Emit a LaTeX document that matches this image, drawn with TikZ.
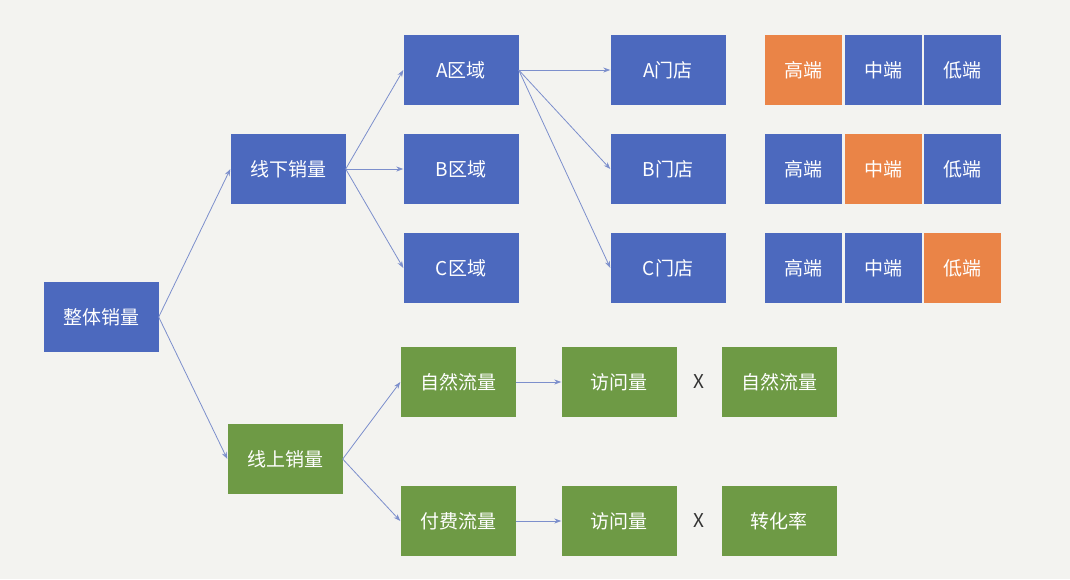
\documentclass[tikz,border=0pt]{standalone}
\usepackage{fontspec}
\setmainfont{Noto Sans CJK SC}
\usetikzlibrary{arrows.meta}
\definecolor{bg}{HTML}{F3F3F0}
\definecolor{bl}{HTML}{4C69BE}
\definecolor{og}{HTML}{EA8447}
\definecolor{gr}{HTML}{6E9A45}
\definecolor{ln}{HTML}{7C8FCC}
\tikzset{
 bx/.style={fill=#1,text=white,minimum width=115pt,minimum height=70pt,inner sep=0pt,font=\fontsize{19}{19}\selectfont},
 tb/.style={fill=#1,text=white,minimum width=77pt,minimum height=70pt,inner sep=0pt,font=\fontsize{19}{19}\selectfont},
 ar/.style={draw=ln,line width=0.8pt,-{Stealth[length=7pt,width=5pt]}}
}
\begin{document}
\begin{tikzpicture}[x=1pt,y=-1pt]
\fill[bg] (0,0) rectangle (1070,579);
\useasboundingbox (0,0) rectangle (1070,579);
\node[bx=bl] (all) at (101,317) {整体销量};
\node[bx=bl] (off) at (288,169) {线下销量};
\node[bx=gr] (on) at (285,459) {线上销量};
\node[bx=bl] (ra) at (461,70) {A区域};
\node[bx=bl] (rb) at (461,169) {B区域};
\node[bx=bl] (rc) at (461,268) {C区域};
\node[bx=bl] (sa) at (668,70) {A门店};
\node[bx=bl] (sb) at (668,169) {B门店};
\node[bx=bl] (sc) at (668,268) {C门店};
\node[tb=og,text=white] (h1) at (803,70) {高端};
\node[tb=bl] (m1) at (883,70) {中端};
\node[tb=bl] (l1) at (962,70) {低端};
\node[tb=bl] (h2) at (803,169) {高端};
\node[tb=og] (m2) at (883,169) {中端};
\node[tb=bl] (l2) at (962,169) {低端};
\node[tb=bl] (h3) at (803,268) {高端};
\node[tb=bl] (m3) at (883,268) {中端};
\node[tb=og] (l3) at (962,268) {低端};
\node[bx=gr] (nat) at (458,382) {自然流量};
\node[bx=gr] (pay) at (458,521) {付费流量};
\node[bx=gr] (v1) at (619,382) {访问量};
\node[bx=gr] (v2) at (619,521) {访问量};
\node[font=\fontsize{19}{19}\selectfont,text=black!80] (x1) at (699,382) {X};
\node[font=\fontsize{19}{19}\selectfont,text=black!80] (x2) at (699,521) {X};
\node[bx=gr] (n2) at (779,382) {自然流量};
\node[bx=gr] (cv) at (779,521) {转化率};
\draw[ar] (all.east) -- (off.west);
\draw[ar] (all.east) -- (on.west);
\draw[ar] (off.east) -- (ra.west);
\draw[ar] (off.east) -- (rb.west);
\draw[ar] (off.east) -- (rc.west);
\draw[ar] (ra.east) -- (sa.west);
\draw[ar] (ra.east) -- (sb.west);
\draw[ar] (ra.east) -- (sc.west);
\draw[ar] (on.east) -- (nat.west);
\draw[ar] (on.east) -- (pay.west);
\draw[ar] (nat.east) -- (v1.west);
\draw[ar] (pay.east) -- (v2.west);
\end{tikzpicture}
\end{document}
